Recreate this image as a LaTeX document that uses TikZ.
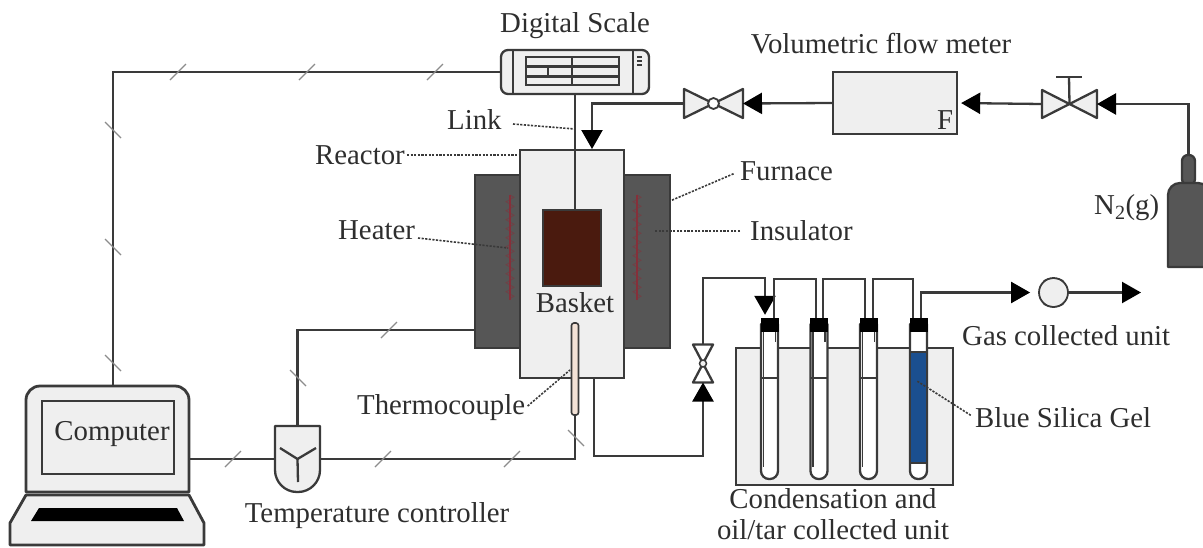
\documentclass[tikz,border=0pt]{standalone}
\usepackage{fontspec}
\setmainfont{Liberation Serif}
\usepackage{xcolor}
\definecolor{linecol}{HTML}{3A3A3A}
\definecolor{textcol}{HTML}{2E2E2E}
\definecolor{soft}{HTML}{EFEFEF}
\definecolor{furn}{HTML}{565656}
\definecolor{basketcol}{HTML}{4A1A0E}
\definecolor{silica}{HTML}{1B4F8F}
\definecolor{heat}{HTML}{85303A}
\definecolor{couple}{HTML}{F3E2D6}
\usetikzlibrary{arrows.meta,decorations.pathmorphing}
\tikzset{
  label/.style   = {inner sep=0pt, text=textcol, font=\fontsize{28.8}{31}\selectfont, align=center},
  dev/.style     = {rectangle, draw=linecol, fill=soft, line width=2.3pt, inner sep=0pt},
  ghost/.style   = {rectangle, inner sep=0pt, outer sep=0pt},
  shell/.style   = {draw=linecol, fill=soft, line width=2.3pt, line join=round},
  wire/.style    = {draw=linecol, line width=2.3pt},
  arr/.style     = {wire, -{Triangle[length=19pt,width=21pt,color=black]}},
  leader/.style  = {draw=linecol, line width=1.6pt, dash pattern=on 2.2pt off 1.4pt},
  wiretick/.style= {draw=black!45, line width=1.1pt},
  capbox/.style  = {rectangle, fill=black, inner sep=0pt, minimum width=18pt, minimum height=14pt},
  heatline/.style= {draw=heat, line width=1.8pt},
  heatzig/.style = {draw=heat, line width=.9pt, opacity=.5, decorate,
                    decoration={zigzag, amplitude=4pt, segment length=9pt}}
}
\begin{document}
\begin{tikzpicture}[x=1pt, y=-1pt]
  \clip (0,0) rectangle (1203,547);
  \useasboundingbox (0,0) rectangle (1203,547);
  % reactor
  \node[dev, fill=furn, minimum width=195pt, minimum height=173pt] (furnace) at (572.5,261.5) {};
  \node[dev, minimum width=104pt, minimum height=228pt] (reactor) at (572,264) {};
  \draw[heatzig] (510,195) -- (510,300);
  \draw[heatzig] (637,195) -- (637,300);
  \draw[heatline] (510,195) -- (510,300);
  \draw[heatline] (637,195) -- (637,300);
  \node[dev, fill=basketcol, minimum width=58pt, minimum height=76pt] (basket) at (572,248) {};
  \node[dev, fill=couple, rounded corners=2.5pt, minimum width=7pt, minimum height=92pt, line width=1.6pt] (couple) at (575,369) {};
  \node[label] (lbasket) at (575,303) {Basket};
  % scale
  \node[dev, rounded corners=7pt, minimum width=148pt, minimum height=44pt, fill=soft] (scale) at (575,72) {};
  \draw[wire] (513,50) -- (513,94);
  \draw[wire] (633,50) -- (633,94);
  \draw[wire] (526,57) rectangle (619,85);
  \draw[wire] (572,57) -- (572,85);
  \draw[wire, line width=3pt] (526,66) -- (619,66);
  \draw[wire, line width=3pt] (526,76) -- (619,76);
  \draw[wire, line width=1.2pt] (548,66) -- (548,76);
  \foreach \dy in {56,60,64} \fill[linecol] (637,\dy) rectangle (642,\dy+2);
  % gas line
  \node[dev, minimum width=124pt, minimum height=62pt] (meter) at (895,103) {};
  \node[label] (lf) at (945,120) {F};
  \node[ghost, minimum width=59pt, minimum height=29pt] (valvea) at (713.5,103.5) {};
  \draw[shell] (valvea.north west) -- (valvea.south west) -- (valvea.north east) -- (valvea.south east) -- cycle;
  \node[circle, draw=linecol, fill=white, line width=1.8pt, minimum size=11pt, inner sep=0pt] (valveac) at (valvea) {};
  \node[ghost, minimum width=55pt, minimum height=28pt] (valveb) at (1069.5,104) {};
  \draw[shell] (valveb.north west) -- (valveb.south west) -- (valveb.north east) -- (valveb.south east) -- cycle;
  \coordinate (stem) at (1069,77);
  \draw[wire] (valveb.center) -- (stem);
  \draw[wire] (1056,77) -- (1082,77);
  \node[ghost, minimum width=20pt, minimum height=38pt] (valvec) at (703,363.5) {};
  \draw[shell, fill=white] (valvec.north west) -- (valvec.north east) -- (valvec.south west) -- (valvec.south east) -- cycle;
  \node[circle, draw=linecol, fill=soft, line width=1.5pt, minimum size=7pt, inner sep=0pt] (valvecc) at (valvec) {};
  % cylinder
  \node[dev, fill=furn, rounded corners=6pt, minimum width=13pt, minimum height=30pt] (neck) at (1188.5,170) {};
  \node[ghost, minimum width=42pt, minimum height=84pt] (bottle) at (1189,225) {};
  \draw[shell, fill=furn] (bottle.south west) [rounded corners=12pt] -- (bottle.north west) -- (bottle.north east) [sharp corners] -- (bottle.south east) -- cycle;
  % computer
  \node[ghost, minimum width=163pt, minimum height=106pt] (computer) at (107.5,439) {};
  \draw[shell, line width=2.8pt] (computer.south west) [rounded corners=14pt] -- (computer.north west) -- (computer.north east) [sharp corners] -- (computer.south east) -- cycle;
  \node[dev, line width=2.6pt, minimum width=132pt, minimum height=73pt] (screen) at (108,437.5) {};
  \draw[shell, line width=2.8pt] (26,495) -- (189,495) -- (204,523) -- (204,545) -- (10,545) -- (10,523) -- cycle;
  \fill[black] (39,508) -- (177,508) -- (184,521) -- (31,521) -- cycle;
  \node[label] (lcomputer) at (112,434) {Computer};
  % controller
  \node[ghost, minimum width=45pt, minimum height=66pt] (ctrl) at (297.5,459) {};
  \draw[shell] (ctrl.north west) -- (ctrl.north east) [rounded corners=22pt] -- (ctrl.south east) -- (ctrl.south west) [sharp corners] -- (ctrl.north west) -- cycle;
  \draw[wire] (280,448) -- (ctrl.center) -- (316,448);
  \draw[wire] (ctrl.center) -- (298,482);
  % condensation train
  \node[dev, minimum width=217pt, minimum height=137pt] (bath) at (844.5,416.5) {};
  \foreach \n/\tx in {1/769.5,2/819,3/868.5,4/918.5} {
    \node[ghost, minimum width=17pt, minimum height=155pt] (tube\n) at (\tx,401.5) {};
    \draw[shell, fill=white] (tube\n.north west) [rounded corners=8pt] -- (tube\n.south west) -- (tube\n.south east) [sharp corners] -- (tube\n.north east) -- cycle;
    \node[capbox] (cap\n) at (\tx,325) {};
  }
  \foreach \n/\tx in {1/769.5,2/819,3/868.5} {
    \draw[wire, line width=1.8pt] (\tx-6,332) -- (\tx-6,467);
    \draw[wire, line width=1.8pt] (\tx+6,332) -- (\tx+6,342);
    \draw[wire] (\tx-8.5,378) -- (\tx+8.5,378);
  }
  \node[rectangle, draw=linecol, fill=silica, line width=1.8pt, minimum width=17pt, minimum height=111pt, inner sep=0pt] (gel) at (918.5,407.5) {};
  \node[circle, draw=linecol, fill=soft, line width=1.8pt, minimum size=29pt, inner sep=0pt] (pump) at (1053.5,292.5) {};
  \draw[wire, line width=1pt] (pump.130) to[bend left=25] (pump.50);
  \draw[wire, line width=1pt] (pump.230) to[bend right=25] (pump.310);
  % connections
  \coordinate (rin) at (592,150);
  \coordinate (rout) at (594,378);
  \coordinate (lowbend) at (703,456);
  \coordinate (topin) at (765,278);
  \coordinate (gasout) at (1141,292.5);
  \coordinate (lapout) at (189,459);
  \coordinate (furnin) at (475,330);
  \draw[wire] (scale.south) -- (575,210);
  \draw[arr] (neck.north) |- (valveb.east);
  \draw[arr, shorten >=3pt] (valveb.west) -- (meter.east);
  \draw[arr] (meter.west) -- (valvea.east);
  \draw[arr, shorten >=1pt] (valvea.west) -| (rin);
  \draw[arr] (rout) |- (lowbend) -- (valvec.south);
  \draw[arr, shorten >=3pt] (valvec.north) |- (topin) -- ([xshift=-4.5pt]cap1.north);
  \foreach \a/\b/\tx/\sa/\sb in {1/2/795/4.5/-3, 2/3/844/4/-3.5, 3/4/893/4.5/-5.5} {
    \coordinate (over\a) at (\tx,279);
    \draw[wire] ([xshift=\sa pt]cap\a.north) |- (over\a) -| ([xshift=\sb pt]cap\b.north);
  }
  \draw[arr, shorten >=8pt] ([xshift=2.5pt]cap4.north) |- (pump.west);
  \draw[arr] (pump.east) -- (gasout);
  \draw[wire] (scale.west) -| ([xshift=5.5pt]computer.north);
  \draw[wire] (lapout) -- (ctrl.west);
  \draw[wire] (ctrl.east) -| (couple.south);
  \draw[wire] (ctrl.north) |- (furnin);
  \foreach \tx/\ty in {178/72, 307/72, 435/72, 389/330, 233/459, 383/459, 512/459}
    \draw[wiretick] (\tx-8,\ty+8) -- (\tx+8,\ty-8);
  \foreach \tx/\ty in {113/130, 113/247, 113/363, 298/378, 576/438}
    \draw[wiretick] (\tx-8,\ty-8) -- (\tx+8,\ty+8);
  % labels
  \node[label] (lscale) at (575,26) {Digital Scale};
  \node[label] (lmeter) at (881,44) {Volumetric flow meter};
  \node[label, anchor=west] (llink) at (447,120) {Link};
  \node[label, anchor=west] (lreactor) at (315,155) {Reactor};
  \node[label, anchor=west] (lfurnace) at (740,171) {Furnace};
  \node[label, anchor=west] (lheater) at (338,230) {Heater};
  \node[label, anchor=west] (linsul) at (750,231) {Insulator};
  \node[label, anchor=west] (lgas) at (1094,208) {N\textsubscript{2}(g)};
  \node[label, anchor=west] (lunit) at (962,336) {Gas collected unit};
  \node[label, anchor=west] (lgel) at (975,418) {Blue Silica Gel};
  \node[label, anchor=west] (lcouple) at (357,408) {Thermocouple};
  \node[label] (lctrl) at (377,516) {Temperature controller};
  \node[label] (lcond) at (833,514.5) {Condensation and\\oil/tar collected unit};
  \coordinate (linkstart) at (513,124);
  \coordinate (linkend) at (575,129);
  \coordinate (reactend) at (520,155);
  \coordinate (furnend) at (670,201);
  \coordinate (insulend) at (655,231);
  \coordinate (heatstart) at (418,238);
  \coordinate (heatend) at (508,248);
  \coordinate (coupleend) at (570,370);
  \coordinate (gelend) at (917,381);
  \draw[leader] (linkstart) -- (linkend);
  \draw[leader, shorten <=2pt] (lreactor.east) -- (reactend);
  \draw[leader, shorten <=7pt] (lfurnace.west) -- (furnend);
  \draw[leader, shorten <=10pt] (linsul.west) -- (insulend);
  \draw[leader] (heatstart) -- (heatend);
  \draw[leader, shorten <=3pt] (lcouple.east) -- (coupleend);
  \draw[leader, shorten <=5pt] (lgel.west) -- (gelend);
\end{tikzpicture}
\end{document}
